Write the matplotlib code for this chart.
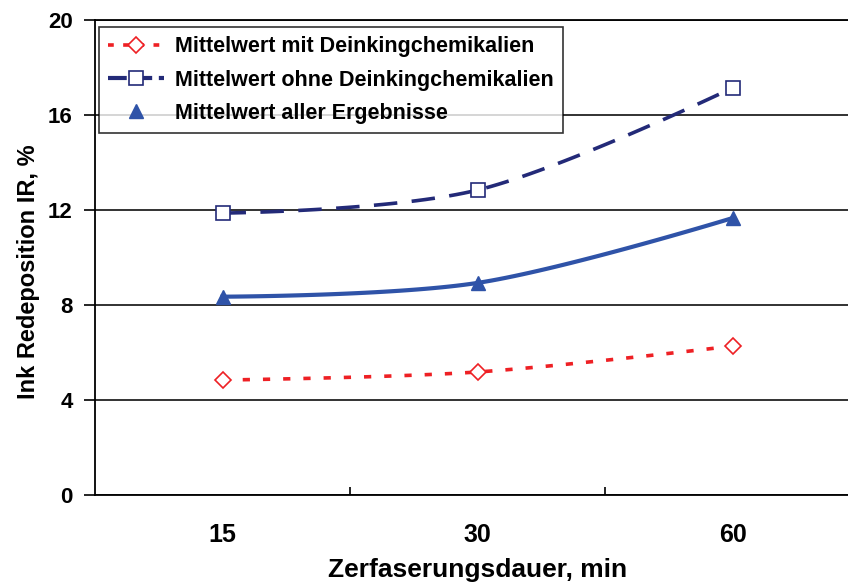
import matplotlib.pyplot as plt
import numpy as np

plt.rcParams['font.family'] = ['Liberation Sans', 'DejaVu Sans']
plt.rcParams['font.weight'] = 'bold'

# Daten aus dem Diagramm
dauer = ['15', '30', '60']
mit_chem = [4.84, 5.18, 6.27]
ohne_chem = [11.87, 12.84, 17.14]
alle = [8.35, 8.93, 11.66]


def excel_smooth(xs, ys, n=40):
    # Glaettung aehnlich Excel: Bezier-Segmente, Kontrollpunkte aus Nachbarpunkten
    p = np.column_stack([xs, ys]).astype(float)
    out = []
    t = np.linspace(0, 1, n)[:, None]
    last = len(p) - 1
    for i in range(last):
        p0, p3 = p[i], p[i + 1]
        c1 = p0 if i == 0 else p0 + (p[i + 1] - p[i - 1]) / 6.0
        c2 = p3 if i + 1 == last else p3 - (p[i + 2] - p[i]) / 6.0
        seg = (1 - t) ** 3 * p0 + 3 * (1 - t) ** 2 * t * c1 + 3 * (1 - t) * t ** 2 * c2 + t ** 3 * p3
        out.append(seg if i == 0 else seg[1:])
    s = np.vstack(out)
    return s[:, 0], s[:, 1]


x = np.arange(len(dauer))

fig = plt.figure(figsize=(8.48, 5.82), dpi=100)
ax = fig.add_axes([95 / 848, 1 - 495 / 582, 765 / 848, 475 / 582])

red = '#ee2024'
navy = '#232a78'
blue = '#2f53a8'

# Linien
sx, sy = excel_smooth(x, mit_chem)
ax.plot(sx, sy, color=red, lw=2.6, dashes=(2, 3.6), zorder=3)
sx, sy = excel_smooth(x, ohne_chem)
ax.plot(sx, sy, color=navy, lw=2.6, dashes=(6.5, 4), zorder=3)
sx, sy = excel_smooth(x, alle)
ax.plot(sx, sy, color=blue, lw=3, zorder=3)

# Marker
ax.plot(x, mit_chem, ls='none', marker='D', ms=8, mfc='white', mec=red, mew=1.2, zorder=4)
ax.plot(x, ohne_chem, ls='none', marker='s', ms=10, mfc='white', mec=navy, mew=1.2, zorder=4)
ax.plot(x, alle, ls='none', marker='^', ms=10, color=blue, zorder=4)

# Legenden-Eintraege
h1, = ax.plot([], [], color=red, lw=2.6, dashes=(1.6, 2.6), marker='D', ms=8, mfc='white', mec=red, mew=1.2)
h2, = ax.plot([], [], color=navy, lw=3, dashes=(4.5, 1.6), marker='s', ms=10, mfc='white', mec=navy, mew=1.2)
h3, = ax.plot([], [], ls='none', marker='^', ms=10, color=blue)
leg = ax.legend([h1, h2, h3],
                ['Mittelwert mit Deinkingchemikalien',
                 'Mittelwert ohne Deinkingchemikalien',
                 'Mittelwert aller Ergebnisse'],
                loc='upper left', bbox_to_anchor=(4 / 765, 1 - 7 / 475),
                prop={'size': 15.5, 'weight': 'bold'}, frameon=True, fancybox=False,
                edgecolor='black', handlelength=2.6, labelspacing=0.58,
                borderpad=0.42, handletextpad=0.5, borderaxespad=0)
leg.get_frame().set_linewidth(1.2)

ax.set_xlim(-0.5, 2.5)
ax.set_ylim(0, 20)
ax.set_yticks([0, 4, 8, 12, 16, 20])
ax.set_yticklabels(['0', '4', '8', '12', '16', '20'], fontsize=16, fontweight='bold')
ax.yaxis.grid(True, color='#222222', lw=1.3)
ax.set_axisbelow(True)
ax.tick_params(axis='y', length=8, width=1.2, pad=8)

ax.set_xticks(x)
ax.set_xticklabels(dauer, fontsize=18, fontweight='bold')
ax.tick_params(axis='x', which='major', length=0, pad=20)
ax.set_xticks([0.5, 1.5], minor=True)
ax.tick_params(axis='x', which='minor', direction='in', length=6, width=1.2)

for side in ['left', 'bottom', 'top']:
    ax.spines[side].set_linewidth(1.3)
ax.spines['right'].set_visible(False)

ax.set_ylabel('Ink Redeposition IR, %', fontsize=17, fontweight='bold')
ax.yaxis.set_label_coords(-0.072, 0.47)
ax.set_xlabel('Zerfaserungsdauer, min', fontsize=19, fontweight='bold', labelpad=8)

fig.savefig('out.png', dpi=100)
